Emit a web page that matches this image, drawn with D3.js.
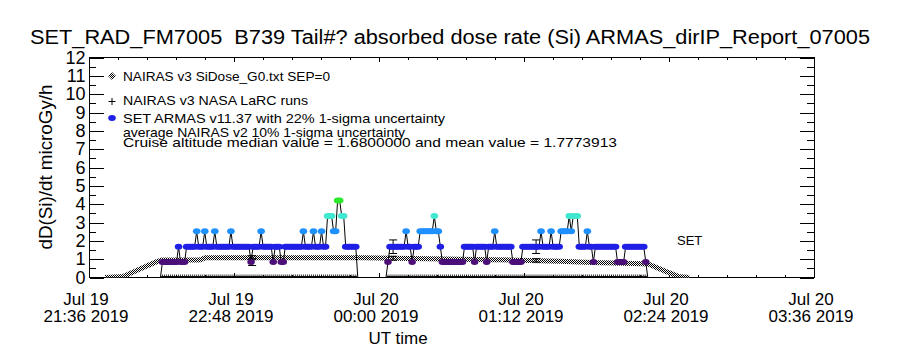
<!DOCTYPE html>
<html>
<head>
<meta charset="utf-8">
<script src="https://cdn.jsdelivr.net/npm/d3@7"></script>
<style>
  body { margin: 0; background: #fff; }
  text { font-family: "Liberation Sans", Arial, sans-serif; fill: #000; white-space: pre; }
</style>
</head>
<body>
<div id="chart"></div>
<script>
// ---- data ----
var titleText = "SET_RAD_FM7005  B739 Tail#? absorbed dose rate (Si) ARMAS_dirIP_Report_07005";
var yLabelText = "dD(Si)/dt microGy/h";
var xLabelText = "UT time";
var legendLines = [
  "NAIRAS v3 SiDose_G0.txt SEP=0",
  "NAIRAS v3 NASA LaRC runs",
  "SET ARMAS v11.37 with 22% 1-sigma uncertainty",
  "average NAIRAS v2 10% 1-sigma uncertainty",
  "Cruise altitude median value = 1.6800000 and mean value = 1.7773913"
];

var yTickValues = [0, 1, 2, 3, 4, 5, 6, 7, 8, 9, 10, 11, 12];
var xTickTimes = ["2019-07-19 21:36", "2019-07-19 22:48", "2019-07-20 00:00",
                  "2019-07-20 01:12", "2019-07-20 02:24", "2019-07-20 03:36"];
var xTickLine1 = ["Jul 19", "Jul 19", "Jul 20", "Jul 20", "Jul 20", "Jul 20"];
var xTickLine2 = ["21:36 2019", "22:48 2019", "00:00 2019", "01:12 2019", "02:24 2019", "03:36 2019"];

// NAIRAS v3 SiDose (gray dithered band)
var nairasTimes = ["2019-07-19 21:44", "2019-07-19 21:53", "2019-07-19 22:01", "2019-07-19 22:10",
                   "2019-07-19 22:12", "2019-07-19 22:31", "2019-07-19 22:34", "2019-07-19 23:51",
                   "2019-07-20 00:24", "2019-07-20 00:57", "2019-07-20 01:30", "2019-07-20 01:46",
                   "2019-07-20 02:11", "2019-07-20 02:14", "2019-07-20 02:22", "2019-07-20 02:29",
                   "2019-07-20 02:34"];
var nairasValues = [0, 0.05, 0.45, 0.88, 0.95, 0.96, 1.08, 1.08, 1.02, 0.97, 0.88, 0.82,
                    0.75, 0.72, 0.35, 0.05, 0];

// SET ARMAS, one sample per minute from armasStart
var armasStart = "2019-07-19 21:44:28";
var armasValues = [
  0,0,0,0,0,0,0,0,0,0,0,0,0,0,0,0,0,0,0,0,0,0,0,0,0,0,0,0,
  0.84,0.84,0.84,0.84,0.84,0.84,0.84,0.84,1.68,0.84,0.84,0.84,
  1.68,1.68,1.68,1.68,1.68,2.52,1.68,1.68,1.68,2.52,1.68,1.68,1.68,1.68,2.52,
  1.68,1.68,1.68,1.68,1.68,1.68,1.68,2.52,
  1.68,1.68,1.68,1.68,1.68,1.68,1.68,1.68,1.68,0.84,
  1.68,1.68,1.68,1.68,2.52,1.68,1.68,1.68,1.68,1.68,0.84,
  1.68,1.68,1.68,0.84,0.84,
  1.68,1.68,1.68,1.68,1.68,1.68,1.68,1.68,1.68,2.52,
  1.68,1.68,1.68,1.68,2.52,1.68,1.68,1.68,2.52,1.68,1.68,
  3.36,3.36,3.36,2.52,2.52,4.2,4.2,3.36,3.36,
  1.68,1.68,1.68,1.68,1.68,1.68,
  0,0,0,0,0,0,0,0,0,0,0,0,0,0,0,
  0.84,1.68,1.68,1.68,1.68,1.68,1.68,1.68,1.68,2.52,
  1.68,1.68,0.84,1.68,1.68,1.68,
  2.52,2.52,2.52,2.52,2.52,2.52,2.52,3.36,2.52,2.52,1.68,
  0.84,0.84,0.84,0.84,0.84,0.84,0.84,0.84,0.84,0.84,0.84,
  1.68,1.68,1.68,1.68,1.68,0.84,1.68,1.68,1.68,1.68,1.68,0.84,
  1.68,1.68,1.68,2.52,1.68,1.68,1.68,1.68,1.68,1.68,1.68,1.68,
  0.84,0.84,0.84,0.84,0.84,
  1.68,1.68,1.68,1.68,1.68,1.68,1.68,1.68,1.68,2.52,
  1.68,1.68,1.68,1.68,2.52,1.68,1.68,1.68,1.68,
  2.52,2.52,2.52,2.52,3.36,2.52,3.36,3.36,3.36,
  1.68,1.68,1.68,1.68,2.52,1.68,1.68,0.84,
  1.68,1.68,1.68,1.68,1.68,1.68,1.68,1.68,1.68,1.68,1.68,
  0.84,0.84,0.84,0.84,
  1.68,1.68,1.68,1.68,1.68,1.68,1.68,1.68,1.68,1.68,0.84,
  0,0,0,0,0,0,0,0,0,0,0,0,0,0,0,0,0
];

// dose levels and their colours
var doseLevels = [0.84, 1.68, 2.52, 3.36, 4.2];
var doseColors = ["#4c0f78", "#1f1fe6", "#1e90ff", "#40e8d0", "#2ee82e"];

// error bars (ARMAS 22%, NAIRAS 10%)
var errTimes = ["2019-07-19 22:57", "2019-07-20 00:07", "2019-07-20 01:18"];
var errArmas = [0.84, 1.68, 1.68];
var errNairas = [1.08, 1.05, 0.93];
var armasSigma = 0.22, nairasSigma = 0.10;

var setLabel = "SET";

// ---- chart ----
var W = 900, H = 350;
var pL = 89, pR = 814, pT = 57.5, pB = 277.5;

var parse = d3.utcParse("%Y-%m-%d %H:%M");
var parseSec = d3.utcParse("%Y-%m-%d %H:%M:%S");

var x = d3.scaleUtc()
  .domain([parse(xTickTimes[0]), parse(xTickTimes[xTickTimes.length - 1])])
  .range([pL, pR]);
var y = d3.scaleLinear().domain([0, 12]).range([pB, pT]);
var color = d3.scaleOrdinal().domain(doseLevels).range(doseColors);

var svg = d3.select("#chart").append("svg")
  .attr("width", W).attr("height", H);

var defs = svg.append("defs");
var pat = defs.append("pattern").attr("id", "dither")
  .attr("width", 2).attr("height", 2).attr("patternUnits", "userSpaceOnUse");
pat.append("rect").attr("width", 2).attr("height", 2).attr("fill", "#fff");
pat.append("rect").attr("width", 1).attr("height", 1).attr("fill", "#000");
pat.append("rect").attr("x", 1).attr("y", 1).attr("width", 1).attr("height", 1).attr("fill", "#000");
defs.append("clipPath").attr("id", "plotclip").append("rect")
  .attr("x", pL).attr("y", pT).attr("width", pR - pL).attr("height", pB - pT);

// title
svg.append("text")
  .attr("x", 450).attr("y", 44)
  .attr("text-anchor", "middle")
  .attr("textLength", 840).attr("lengthAdjust", "spacingAndGlyphs")
  .style("font-size", "20px")
  .text(titleText);

// frame
svg.append("rect")
  .attr("x", pL + 0.5).attr("y", pT).attr("width", pR - pL).attr("height", pB - pT)
  .attr("fill", "none").attr("stroke", "#000").attr("stroke-width", 1)
  .attr("shape-rendering", "crispEdges");

// y axis ticks (inward) + labels
var yAxis = svg.append("g").attr("transform", "translate(" + (pL + 0.5) + ",0)")
  .call(d3.axisLeft(y).tickValues(yTickValues).tickSize(-14.5).tickPadding(4).tickFormat(d3.format("d")));
yAxis.select(".domain").remove();
yAxis.selectAll("text").style("font-size", "18px").attr("font-family", null);
yAxis.selectAll("line").attr("shape-rendering", "crispEdges");

var yMinor = yTickValues.slice(0, -1).map(function (d) { return d + 0.5; });
svg.append("g").selectAll("line").data(yMinor).join("line")
  .attr("x1", pL).attr("x2", pL + 7)
  .attr("y1", function (d) { return Math.round(y(d)) + 0.5; })
  .attr("y2", function (d) { return Math.round(y(d)) + 0.5; })
  .attr("stroke", "#000").attr("shape-rendering", "crispEdges");

// right axis ticks
svg.append("g").selectAll("line").data(yTickValues.concat(yMinor)).join("line")
  .attr("x1", pR).attr("x2", function (d) { return d % 1 === 0 ? pR - 14.5 : pR - 7; })
  .attr("y1", function (d) { return Math.round(y(d)) + 0.5; })
  .attr("y2", function (d) { return Math.round(y(d)) + 0.5; })
  .attr("stroke", "#000").attr("shape-rendering", "crispEdges");

// x ticks, bottom and top
var majors = xTickTimes.map(parse);
var minors = [];
for (var i = 0; i < majors.length - 1; i++) {
  var a = x(majors[i]), b = x(majors[i + 1]);
  for (var k = 1; k < 5; k++) minors.push(a + (b - a) * k / 5);
}
var xt = svg.append("g").attr("stroke", "#000").attr("shape-rendering", "crispEdges");
majors.forEach(function (t) {
  var px = Math.round(x(t)) + 0.5;
  xt.append("line").attr("x1", px).attr("x2", px).attr("y1", pB).attr("y2", pB - 4.4);
  xt.append("line").attr("x1", px).attr("x2", px).attr("y1", pT).attr("y2", pT + 4.4);
});
minors.forEach(function (m) {
  var px = Math.round(m) + 0.5;
  xt.append("line").attr("x1", px).attr("x2", px).attr("y1", pB).attr("y2", pB - 2.2);
  xt.append("line").attr("x1", px).attr("x2", px).attr("y1", pT).attr("y2", pT + 2.2);
});

var xl = svg.append("g").attr("text-anchor", "middle").style("font-size", "17px");
majors.forEach(function (t, i) {
  var lab = xl.append("text").attr("x", x(t) - 3).attr("y", 305);
  lab.append("tspan").attr("x", x(t) - 3).attr("dy", 0).text(xTickLine1[i]);
  lab.append("tspan").attr("x", x(t) - 3).attr("dy", 17).text(xTickLine2[i]);
});

svg.append("text").attr("x", 398).attr("y", 344).attr("text-anchor", "middle")
  .style("font-size", "17px").text(xLabelText);

svg.append("text")
  .attr("transform", "translate(52,167) rotate(-90)")
  .attr("text-anchor", "middle")
  .attr("textLength", 165).attr("lengthAdjust", "spacingAndGlyphs")
  .style("font-size", "18px")
  .text(yLabelText);

// ---- plot content ----
var plot = svg.append("g").attr("clip-path", "url(#plotclip)");

var nairas = nairasTimes.map(function (t, i) { return { t: parse(t), v: nairasValues[i] }; });
plot.append("path").datum(nairas)
  .attr("fill", "none").attr("stroke", "url(#dither)").attr("stroke-width", 5)
  .attr("stroke-linejoin", "round")
  .attr("d", d3.line().x(function (d) { return x(d.t); }).y(function (d) { return y(d.v); }));

var t0 = parseSec(armasStart);
var armas = armasValues.map(function (v, i) { return { t: new Date(t0.getTime() + i * 60000), v: v }; });

// NASA LaRC runs: "+" symbols at zero for each ARMAS sample
plot.append("g").selectAll("path").data(armas.filter(function (d) { return d.v > 0; })).join("path")
  .attr("d", function (d) {
    var px = x(d.t), py = y(0);
    return "M" + (px - 1.5) + "," + (py - 1) + "H" + (px + 1.5) + "M" + px + "," + (py - 3) + "V" + py;
  })
  .attr("stroke", "#000").attr("stroke-width", 0.8);

plot.append("path").datum(armas)
  .attr("fill", "none").attr("stroke", "#000").attr("stroke-width", 1)
  .attr("d", d3.line().x(function (d) { return x(d.t); }).y(function (d) { return y(d.v); }));

// error bars
errTimes.forEach(function (t, i) {
  var px = x(parse(t));
  var lo = errArmas[i] * (1 - armasSigma), hi = errArmas[i] * (1 + armasSigma);
  var nlo = errNairas[i] * (1 - nairasSigma), nhi = errNairas[i] * (1 + nairasSigma);
  var g = plot.append("g").attr("stroke", "#000").attr("stroke-width", 1);
  g.append("line").attr("x1", px).attr("x2", px).attr("y1", y(lo)).attr("y2", y(hi));
  g.append("line").attr("x1", px - 4).attr("x2", px + 4).attr("y1", y(lo)).attr("y2", y(lo));
  g.append("line").attr("x1", px - 4).attr("x2", px + 4).attr("y1", y(hi)).attr("y2", y(hi));
  g.append("line").attr("x1", px).attr("x2", px).attr("y1", y(nlo)).attr("y2", y(nhi));
  g.append("line").attr("x1", px - 4).attr("x2", px + 4).attr("y1", y(nlo)).attr("y2", y(nlo));
  g.append("line").attr("x1", px - 4).attr("x2", px + 4).attr("y1", y(nhi)).attr("y2", y(nhi));
});

plot.append("g").selectAll("ellipse").data(armas.filter(function (d) { return d.v > 0; })).join("ellipse")
  .attr("cx", function (d) { return x(d.t); })
  .attr("cy", function (d) { return y(d.v); })
  .attr("rx", 3.8).attr("ry", 3)
  .attr("fill", function (d) { return color(d.v); });

svg.append("text").attr("x", 677).attr("y", 245).style("font-size", "13px").text(setLabel);

// ---- legend ----
var lg = svg.append("g");
var legY = [76, 100, 118, 132, 142];
var legW = [207, 185, 322, 282, 494];
legendLines.forEach(function (s, i) {
  lg.append("text").attr("x", 123).attr("y", legY[i] + 5)
    .attr("textLength", legW[i]).attr("lengthAdjust", "spacingAndGlyphs")
    .style("font-size", "13px").text(s);
});
lg.append("path").attr("d", "M112,72L116,76L112,80L108,76Z").attr("fill", "url(#dither)");
lg.append("path").attr("d", "M108.5,101.5H115.5M112,98V105").attr("stroke", "#000");
lg.append("ellipse").attr("cx", 112).attr("cy", 118).attr("rx", 3.8).attr("ry", 3).attr("fill", doseColors[1]);
</script>
</body>
</html>
